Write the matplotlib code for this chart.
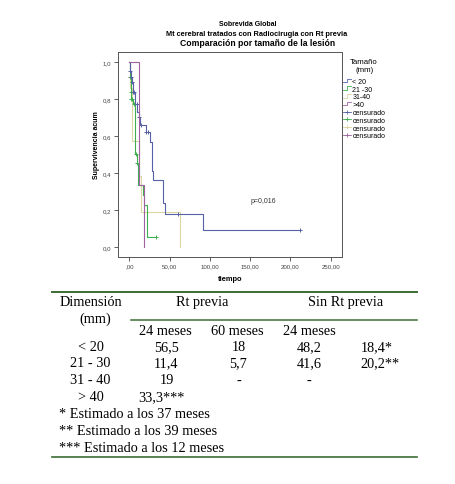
import numpy as np
import matplotlib.pyplot as plt
from matplotlib.lines import Line2D
from matplotlib.legend_handler import HandlerBase

W, H = 455, 485

# Kaplan-Meier steps: (time, survival from that time on)
t_lt20 = [0, 0.7, 2, 3.5, 4.5, 7, 10, 12, 13.5, 21, 25.5, 28, 30, 42, 44.5, 92, 211.5]
s_lt20 = [1.0, 0.95, 0.92, 0.89, 0.84, 0.77, 0.73, 0.70, 0.66, 0.62, 0.565, 0.41, 0.36, 0.24, 0.18, 0.09, 0.09]
c_lt20 = [0.8, 2.5, 3.7, 4.5, 5.8, 9.9, 12.2, 14, 21, 23.5, 61, 211.5]

t_21_30 = [0, 0.5, 1.5, 2.5, 4, 7.5, 9, 11, 16.5, 18, 22.3, 33.5]
s_21_30 = [1.0, 0.92, 0.84, 0.80, 0.77, 0.50, 0.455, 0.335, 0.28, 0.225, 0.055, 0.055]
c_21_30 = [0.8, 1.7, 2.5, 3.3, 5.8, 8.3, 10, 33.5]

t_31_40 = [0, 1, 3.5, 12.5, 14, 62.5]
s_31_40 = [1.0, 0.857, 0.571, 0.381, 0.19, 0.0]
c_31_40 = []

t_gt40 = [0, 12, 18]
s_gt40 = [1.0, 0.333, 0.0]
c_gt40 = []

groups = ["< 20", "21 -30", "31-40", ">40"]
colors = ["#5661a8", "#3fae4f", "#dcd6a2", "#a062a0"]

y_ticks = [0.0, 0.2, 0.4, 0.6, 0.8, 1.0]
y_labels = ["0,0", "0,2", "0,4", "0,6", "0,8", "1,0"]
x_ticks = [0, 50, 100, 150, 200, 250]
x_labels = [",00", "50,00", "100,00", "150,00", "200,00", "250,00"]

# table below the chart
dims = ["< 20", "21 - 30", "31 - 40", "> 40"]
rt_24 = ["56,5", "11,4", "19", "33,3***"]
rt_60 = ["18", "5,7", "-", ""]
sin_24 = ["48,2", "41,6", "-", ""]
sin_otro = ["18,4*", "20,2**", "", ""]
notas = ["* Estimado a los 37 meses", "** Estimado a los 39 meses",
         "*** Estimado a los 12 meses"]


def fx(x):
    return x / W


def fy(y):
    return 1 - y / H


class StepHandler(HandlerBase):
    def create_artists(self, legend, orig_handle, xdescent, ydescent,
                       width, height, fontsize, trans):
        x0, x1 = -xdescent, -xdescent + width
        xm = x0 + width * 0.45
        y0, y1 = -ydescent + height * 0.15, -ydescent + height * 0.85
        ln = Line2D([x0, xm, xm, x1], [y0, y0, y1, y1],
                    color=orig_handle.get_color(), lw=0.6, transform=trans)
        return [ln]


plt.rcParams['font.family'] = ['Liberation Sans', 'DejaVu Sans']
fig = plt.figure(figsize=(W / 100, H / 100), dpi=100)
ax = fig.add_axes([fx(117.7), fy(258.3), fx(342) - fx(117.7), fy(53.3) - fy(258.3)])

series = [(t_lt20, s_lt20, c_lt20), (t_21_30, s_21_30, c_21_30),
          (t_31_40, s_31_40, c_31_40), (t_gt40, s_gt40, c_gt40)]
order = [2, 1, 0, 3]
for i in order:
    t, s, c = series[i]
    ax.step(t, s, where='post', color=colors[i], lw=0.8)
    if c:
        idx = np.searchsorted(t, c, side='right') - 1
        ax.plot(c, np.array(s)[idx], ls='none', marker='+', ms=3.5,
                mew=0.7, color=colors[i])

ax.set_xlim(-14.4, 264)
ax.set_ylim(-0.056, 1.052)
ax.set_xticks(x_ticks)
ax.set_xticklabels(x_labels)
ax.set_yticks(y_ticks)
ax.set_yticklabels(y_labels)
ax.tick_params(labelsize=4.4, length=3, width=0.6, pad=1.5, colors='#444444')
for sp in ax.spines.values():
    sp.set_color('#555555')
    sp.set_linewidth(0.7)

ax.set_xlabel('tiempo', fontsize=5.4, fontweight='bold', labelpad=4.5)
ax.set_ylabel('Supervivencia acum', fontsize=5, fontweight='bold')
ax.yaxis.set_label_coords(-0.078, 0.553)
ax.text(166, 0.25, 'p=0,016', fontsize=5, ha='center', va='center', color='#333333')

fig.text(fx(248), fy(25), 'Sobrevida Global', fontsize=5, fontweight='bold',
         ha='center', va='center')
fig.text(fx(257), fy(34.5), 'Mt cerebral tratados con Radiocirugia con Rt previa',
         fontsize=5.3, fontweight='bold', ha='center', va='center')
fig.text(fx(257.5), fy(44), 'Comparación por tamaño de la lesión', fontsize=6.2,
         fontweight='bold', ha='center', va='center')

handles = [Line2D([], [], color=c) for c in colors]
handles += [Line2D([], [], color=c, marker='+', ms=3.5, mew=0.6, lw=0.6) for c in colors]
labels = groups + ["censurado"] * 4
hmap = {h: StepHandler() for h in handles[:4]}
leg = fig.legend(handles, labels, handler_map=hmap, loc='upper left',
                 bbox_to_anchor=(fx(343), fy(59.5)), frameon=False, fontsize=5,
                 title='Tamaño\n(mm)', title_fontsize=5.6, handlelength=1.2,
                 handletextpad=0.15, labelspacing=0.12, borderpad=0, borderaxespad=0,
                 numpoints=1)
leg._legend_box.align = 'center'
leg._legend_box.sep = 3
leg.get_title().set_multialignment('center')

# table
serif = ['Liberation Serif', 'DejaVu Serif']
green = '#3b6d33'
fig.add_artist(Line2D([fx(52), fx(417)], [fy(292.5), fy(292.5)], color=green, lw=1.4))
fig.add_artist(Line2D([fx(131), fx(417)], [fy(321), fy(321)], color=green, lw=1.1))
fig.add_artist(Line2D([fx(52), fx(417)], [fy(457.5), fy(457.5)], color=green, lw=1.2))

fs = 10.3
fig.text(fx(91), fy(302.5), 'Dimensión', family=serif, fontsize=fs, ha='center', va='center')
fig.text(fx(95), fy(319), '(mm)', family=serif, fontsize=fs, ha='center', va='center')
fig.text(fx(202.5), fy(302.5), 'Rt previa', family=serif, fontsize=fs, ha='center', va='center')
fig.text(fx(345.8), fy(302.5), 'Sin Rt previa', family=serif, fontsize=fs, ha='center', va='center')
for xc, lab in zip([165.8, 237.8, 309.7], ['24 meses', '60 meses', '24 meses']):
    fig.text(fx(xc), fy(331.5), lab, family=serif, fontsize=fs, ha='center', va='center')

row_y = [347.5, 364, 381, 398]
for j in range(len(dims)):
    y = fy(row_y[j])
    fig.text(fx(90.5), y, dims[j], family=serif, fontsize=fs, ha='center', va='center')
    if rt_24[j].endswith('***'):
        fig.text(fx(138.5), y, rt_24[j], family=serif, fontsize=fs, ha='left', va='center')
    else:
        fig.text(fx(166.5), y, rt_24[j], family=serif, fontsize=fs, ha='center', va='center')
    fig.text(fx(238.5), y, rt_60[j], family=serif, fontsize=fs, ha='center', va='center')
    fig.text(fx(309), y, sin_24[j], family=serif, fontsize=fs, ha='center', va='center')
    fig.text(fx(360.5), y, sin_otro[j], family=serif, fontsize=fs, ha='left', va='center')

for k, nota in enumerate(notas):
    fig.text(fx(59), fy(414.5 + 17 * k), nota, family=serif, fontsize=fs,
             ha='left', va='center')

fig.savefig('out.png', dpi=100)
